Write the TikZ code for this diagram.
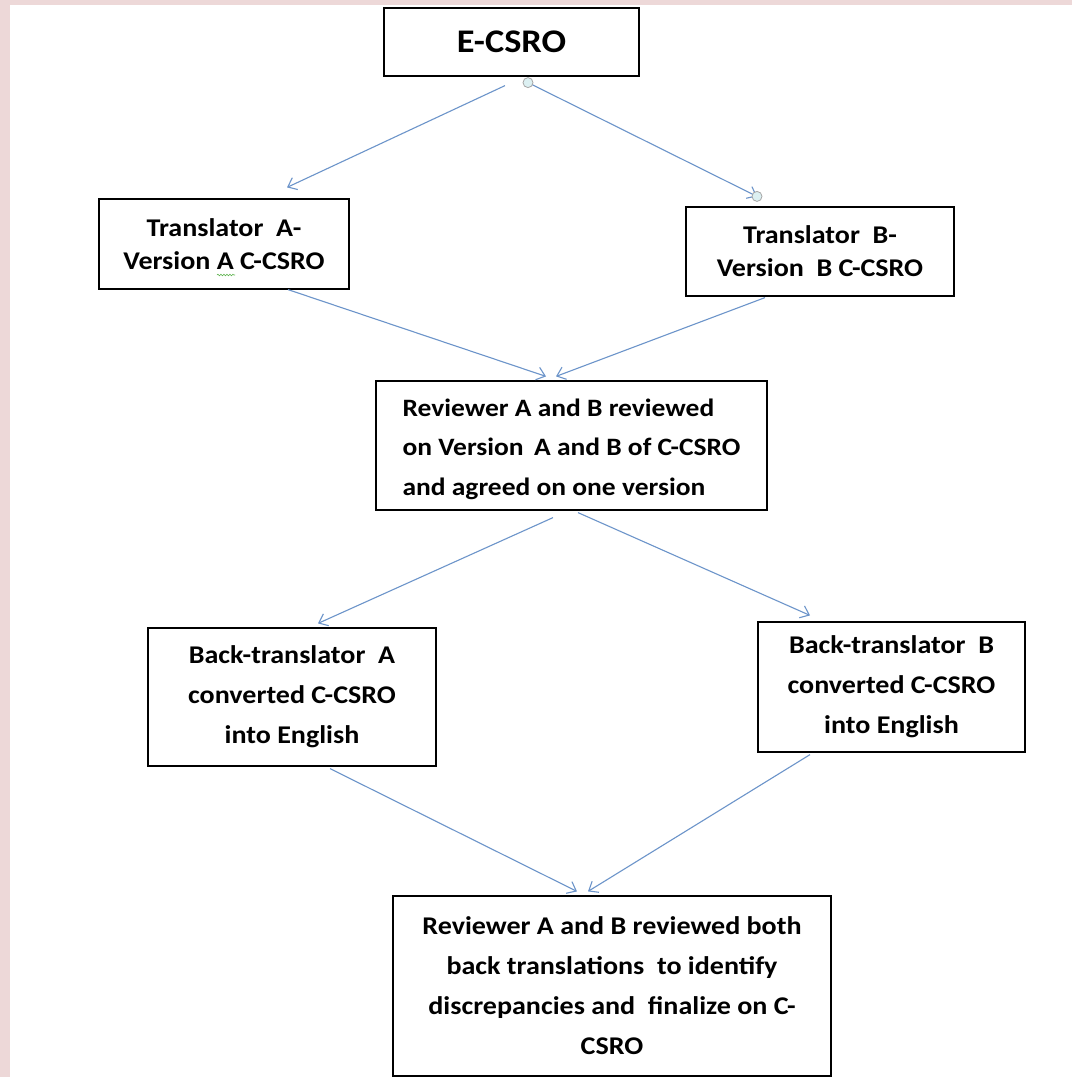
\documentclass[tikz,border=0pt]{standalone}
\usepackage{fontspec}
\setmainfont{Carlito}[FakeStretch=1.1]
\usetikzlibrary{arrows.meta,calc,decorations.pathmorphing}
\definecolor{pinkedge}{RGB}{237,216,216}
\definecolor{flowblue}{RGB}{108,148,202}
\definecolor{dotfill}{RGB}{220,240,242}
\definecolor{spellgreen}{RGB}{96,180,80}
\tikzset{
  box/.style={draw=black, line width=1.2pt, fill=white, inner sep=0pt,
    align=center, font=\bfseries\fontsize{25.5}{40}\selectfont},
  tight/.style={font=\bfseries\fontsize{25.5}{33}\selectfont},
  flow/.style={draw=flowblue, line width=1.1pt,
    -{Straight Barb[length=8pt,width=13pt,line width=1.1pt]}},
  dot/.style={circle, draw=gray!70, fill=dotfill, line width=0.8pt,
    minimum size=10pt, inner sep=0pt},
}
\begin{document}
\begin{tikzpicture}[x=1pt,y=-1pt]
  % page frame
  \fill[pinkedge] (0,0) rectangle (1072,1077);
  \fill[white] (10,5) rectangle (1072,1077);
  \useasboundingbox (0,0) rectangle (1072,1077);

  % boxes
  \node[box, minimum width=255pt, minimum height=68pt,
        font=\bfseries\fontsize{33}{40}\selectfont] (top) at (511.5,42) {E-CSRO};
  \node[box, tight, minimum width=250pt, minimum height=90pt] (ta) at (224,244)
    {Translator\ \ A-\\Version A C-CSRO};
  \node[box, tight, minimum width=268pt, minimum height=89pt] (tb) at (820,251.5)
    {Translator\ \ B-\\Version\ \ B C-CSRO};
  \node[box, minimum width=391pt, minimum height=129pt, align=left,
        font=\bfseries\fontsize{25}{39.5}\selectfont] (rev) at (571.5,445.5)
    {\rule{0pt}{25pt}Reviewer A and B reviewed\\on Version\,\ A and B of C-CSRO\hspace*{12pt}\\and agreed on one version};
  \node[box, minimum width=288pt, minimum height=138pt] (ba) at (292,697)
    {Back-translator\ \ A\\converted C-CSRO\\into English};
  \node[box, minimum width=267pt, minimum height=130pt] (bb) at (891.5,687)
    {Back-translator\ \ B\\converted C-CSRO\\into English};
  \node[box, minimum width=438pt, minimum height=180pt] (fin) at (612,986)
    {Reviewer A and B reviewed both\\back translations\ \ to identify\\discrepancies and\ \ finalize on C-\\CSRO};

  % spell-check mark under the second A
  \draw[spellgreen, line width=0.6pt,
        decorate, decoration={snake,segment length=3pt,amplitude=0.8pt}]
    (217,275) -- (235,275);

  % connectors
  \draw[flow] ([shift={(-6.5,9)}]top.south) -- ([shift={(63,-11)}]ta.north);
  \draw[flow] ([shift={(16.5,6)}]top.south) -- ([shift={(-63,-10)}]tb.north);
  \node[dot] (d1) at ([shift={(16.5,6)}]top.south) {};
  \node[dot] (d2) at ([shift={(-63,-10)}]tb.north) {};
  \draw[flow] ([shift={(64,0)}]ta.south) -- ([shift={(-25.5,-4)}]rev.north);
  \draw[flow] ([shift={(-55,1)}]tb.south) -- ([shift={(-15.5,-4)}]rev.north);
  \draw[flow] ([shift={(-18.5,7)}]rev.south) -- ([shift={(26,-4)}]ba.north);
  \draw[flow] ([shift={(6.5,2)}]rev.south) -- ([shift={(-81.5,-6)}]bb.north);
  \draw[flow] ([shift={(38,2)}]ba.south) -- ([shift={(-35,-4)}]fin.north);
  \draw[flow] ([shift={(-81.5,2)}]bb.south) -- ([shift={(-24,-4)}]fin.north);
\end{tikzpicture}
\end{document}
